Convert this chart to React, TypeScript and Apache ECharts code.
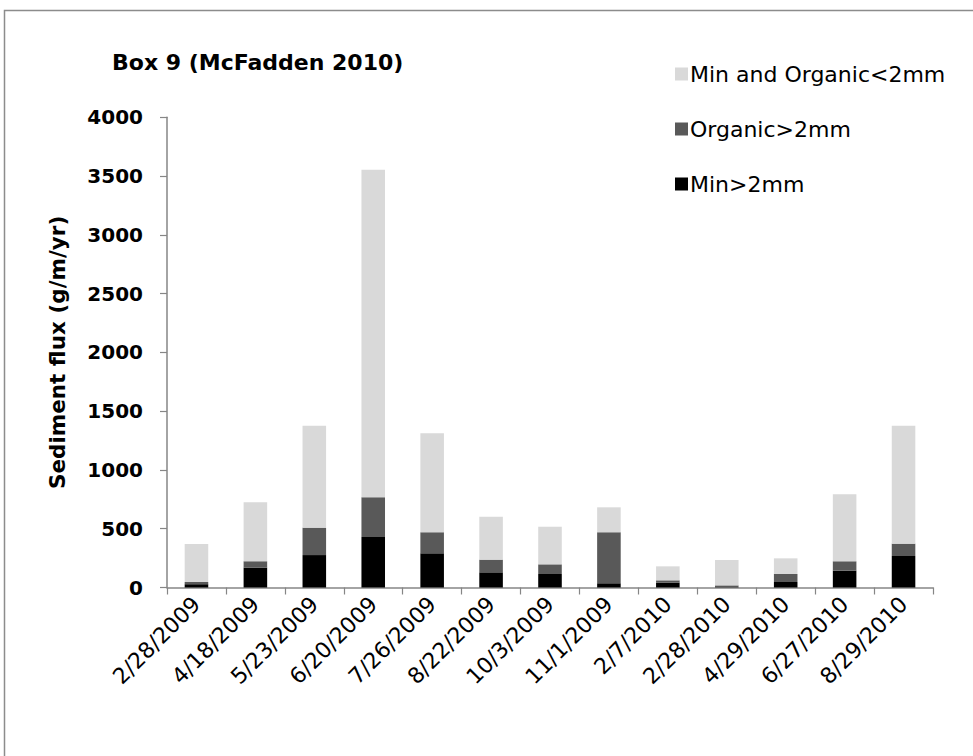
import React, { useEffect, useRef } from "react";
import * as echarts from "echarts";

const categories = [
  "2/28/2009", "4/18/2009", "5/23/2009", "6/20/2009", "7/26/2009", "8/22/2009",
  "10/3/2009", "11/1/2009", "2/7/2010", "2/28/2010", "4/29/2010", "6/27/2010", "8/29/2010",
];
const minCoarse = [28, 168, 276, 430, 291, 129, 115, 36, 41, 3, 47, 143, 268];
const organicCoarse = [19, 55, 233, 337, 179, 108, 82, 434, 20, 15, 68, 80, 105];
const fineAll = [323, 502, 867, 2787, 842, 365, 320, 212, 119, 216, 133, 570, 1003];
const seriesNames = ["Min and Organic<2mm", "Organic>2mm", "Min>2mm"];
const titleText = "Box 9 (McFadden 2010)";
const yAxisName = "Sediment flux (g/m/yr)";

const FONT = "DejaVu Sans";

export default function App() {
  const ref = useRef<HTMLDivElement>(null);
  useEffect(() => {
    if (!ref.current) return;
    const chart = echarts.init(ref.current, null, { renderer: "svg" });
    chart.setOption({
      animation: false,
      backgroundColor: "#ffffff",
      title: {
        text: titleText,
        left: 107,
        top: 46,
        textStyle: { fontFamily: FONT, fontSize: 22, fontWeight: "bold", color: "#000" },
      },
      graphic: [
        {
          type: "rect",
          shape: { x: 4.5, y: 10.5, width: 990, height: 760 },
          style: { fill: "none", stroke: "#8c8c8c", lineWidth: 1.5 },
          silent: true,
        },
      ],
      legend: {
        orient: "vertical",
        left: 670,
        top: 58,
        itemWidth: 13,
        itemHeight: 13,
        itemGap: 33,
        icon: "rect",
        data: [seriesNames[0], seriesNames[1], seriesNames[2]],
        textStyle: { fontFamily: FONT, fontSize: 22, color: "#000", lineHeight: 22, padding: [0, 0, 0, -3] },
      },
      grid: { left: 167, right: 40, top: 117.3, bottom: 168.5 },
      xAxis: {
        type: "category",
        data: categories,
        boundaryGap: true,
        axisLine: { lineStyle: { color: "#868686", width: 1.5 } },
        axisTick: { show: true, length: 7, alignWithLabel: false, lineStyle: { color: "#868686", width: 1.2 } },
        axisLabel: {
          rotate: 45,
          interval: 0,
          margin: 13,
          fontFamily: FONT,
          fontSize: 22,
          color: "#000",
        },
      },
      yAxis: {
        type: "value",
        min: 0,
        max: 4000,
        interval: 500,
        name: yAxisName,
        nameLocation: "middle",
        nameGap: 99,
        nameRotate: 90,
        nameTextStyle: { fontFamily: FONT, fontSize: 21.5, fontWeight: "bold", color: "#000" },
        splitLine: { show: false },
        axisLine: { show: true, lineStyle: { color: "#868686", width: 1.5 } },
        axisTick: { show: true, length: 7, lineStyle: { color: "#868686", width: 1.2 } },
        axisLabel: {
          margin: 24,
          fontFamily: FONT,
          fontSize: 20,
          fontWeight: "bold",
          color: "#000",
          formatter: (v: number) => String(v),
        },
      },
      series: [
        {
          name: seriesNames[2],
          type: "bar",
          stack: "total",
          barWidth: "40%",
          data: minCoarse,
          itemStyle: { color: "#000000" },
        },
        {
          name: seriesNames[1],
          type: "bar",
          stack: "total",
          barWidth: "40%",
          data: organicCoarse,
          itemStyle: { color: "#595959" },
        },
        {
          name: seriesNames[0],
          type: "bar",
          stack: "total",
          barWidth: "40%",
          data: fineAll,
          itemStyle: { color: "#d9d9d9" },
        },
      ],
    });
    return () => chart.dispose();
  }, []);
  return (
    <div
      ref={ref}
      style={{ position: "fixed", left: 0, top: 0, width: 973, height: 756, background: "#fff" }}
    />
  );
}
